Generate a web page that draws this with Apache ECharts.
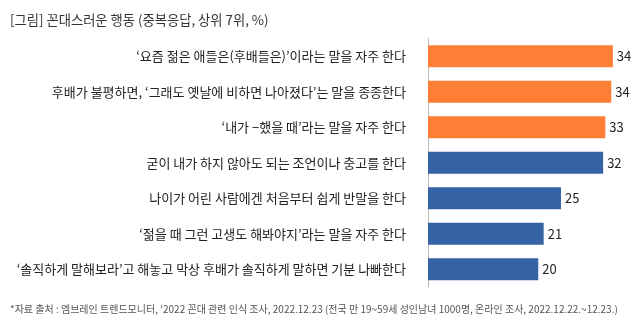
<!DOCTYPE html>
<html><head><meta charset="utf-8">
<script src="https://cdn.jsdelivr.net/npm/echarts@6/dist/echarts.min.js"></script>
<style>html,body{margin:0;padding:0;background:#fff}#c{width:643px;height:328px}</style>
</head><body><div id="c"></div>
<script>
const categories = [
  "‘요즘 젊은 애들은(후배들은)’이라는 말을 자주 한다",
  "후배가 불평하면, ‘그래도 옛날에 비하면 나아졌다’는 말을 종종한다",
  "‘내가 −했을 때’라는 말을 자주 한다",
  "굳이 내가 하지 않아도 되는 조언이나 충고를 한다",
  "나이가 어린 사람에겐 처음부터 쉽게 반말을 한다",
  "‘젊을 때 그런 고생도 해봐야지’라는 말을 자주 한다",
  "‘솔직하게 말해보라’고 해놓고 막상 후배가 솔직하게 말하면 기분 나빠한다"
];
const values = [34.2, 33.9, 32.8, 32.4, 24.6, 21.4, 20.4];
const highlight = [true, true, true, false, false, false, false];
const titleText = "[그림] 꼰대스러운 행동 (중복응답, 상위 7위, %)";
const sourceText = "*자료 출처 : 엠브레인 트렌드모니터, ‘2022 꼰대 관련 인식 조사, 2022.12.23 (전국 만 19~59세 성인남녀 1000명, 온라인 조사, 2022.12.22.~12.23.)";

const FONT = '"Noto Sans CJK KR", "Noto Sans", sans-serif';
const chart = echarts.init(document.getElementById('c'), null, {renderer: 'canvas'});
chart.setOption({
  animation: false,
  textStyle: {fontFamily: FONT},
  title: {
    text: titleText, left: 5, top: 8,
    textStyle: {fontSize: 13.3, fontWeight: 'normal', color: '#333', fontFamily: FONT}
  },
  graphic: [{
    type: 'text', left: 10, top: 304,
    style: {text: sourceText, fontSize: 10, fill: '#555', fontFamily: FONT}
  }],
  grid: {left: 428, top: 38.5, width: 200, height: 248.5, containLabel: false},
  xAxis: {type: 'value', min: 0, max: 37, show: false},
  yAxis: {
    type: 'category', data: categories, inverse: true,
    axisLine: {show: true, lineStyle: {color: '#bbbbbb', width: 1}},
    axisTick: {show: false},
    axisLabel: {fontSize: 13, color: '#222', margin: 22, fontFamily: FONT}
  },
  series: [{
    type: 'bar', barWidth: 22,
    data: values.map((v, i) => ({
      value: v,
      itemStyle: {color: highlight[i] ? '#FD7E34' : '#3563A3'}
    })),
    label: {
      show: true, position: 'right', distance: 4,
      fontSize: 13, color: '#222', fontFamily: FONT,
      formatter: p => Math.round(p.value)
    }
  }]
});
</script></body></html>
